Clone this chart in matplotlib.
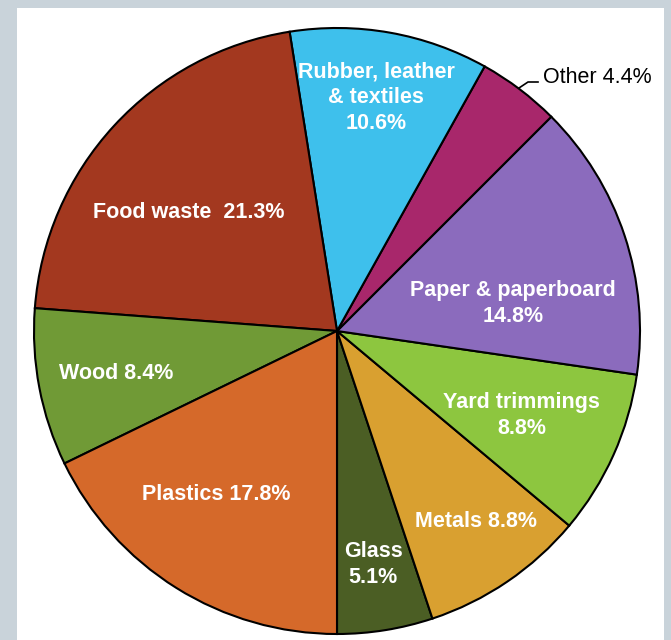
import matplotlib
matplotlib.use("Agg")
import matplotlib.pyplot as plt
from matplotlib.patches import Rectangle

# Share of municipal solid waste, going counterclockwise from the bottom
categories = ["Glass", "Metals", "Yard trimmings", "Paper & paperboard", "Other",
              "Rubber, leather & textiles", "Food waste", "Wood", "Plastics"]
shares = [5.1, 8.8, 8.8, 14.8, 4.4, 10.6, 21.3, 8.4, 17.8]
labels = ["Glass\n5.1%", "Metals 8.8%", "Yard trimmings\n8.8%", "Paper & paperboard\n14.8%",
          "Other 4.4%", "Rubber, leather\n& textiles\n10.6%", "Food waste  21.3%",
          "Wood 8.4%", "Plastics 17.8%"]
colors = ["#4b5e24", "#d9a030", "#8dc63f", "#8b6bbd", "#a8276b",
          "#3ec0ec", "#a3381f", "#709a36", "#d5692a"]

# label centres in pie units (radius = 1)
label_pos = [(0.12, -0.77), (0.46, -0.63), (0.61, -0.28), (0.58, 0.09), None,
             (0.13, 0.77), (-0.49, 0.39), (-0.73, -0.14), (-0.40, -0.54)]

W, H = 671, 640
cx, cy, R = 337, 331, 303

fig = plt.figure(figsize=(W / 100, H / 100), dpi=100)
fig.patch.set_facecolor("#c9d3da")
fig.patches.append(Rectangle((17 / W, 0), 647 / W, (H - 8) / H, transform=fig.transFigure,
                             facecolor="white", edgecolor="none", zorder=-1))

ax = fig.add_axes([0, 0, 1, 1])
ax.set_facecolor("none")
ax.pie(shares, colors=colors, startangle=-90, counterclock=True,
       wedgeprops=dict(edgecolor="black", linewidth=1.5))
ax.set_xlim(-cx / R, (W - cx) / R)
ax.set_ylim(-(H - cy) / R, cy / R)
ax.set_aspect("equal", adjustable="box")
ax.axis("off")

for lab, pos in zip(labels, label_pos):
    if pos is None:
        continue
    ax.text(pos[0], pos[1], lab, ha="center", va="center", color="white",
            fontsize=15.5, fontweight="bold", linespacing=1.3,
            family=["Liberation Sans", "DejaVu Sans"])

# leader line for the small "Other" slice
ax.plot([(519 - cx) / R, (528 - cx) / R, (538 - cx) / R],
        [(cy - 88) / R, (cy - 82) / R, (cy - 82) / R], color="black", linewidth=1.2)
ax.text((543 - cx) / R, (cy - 78) / R, labels[4], ha="left", va="center", color="black",
        fontsize=15.5, family=["Liberation Sans", "DejaVu Sans"])

fig.savefig("out.png", dpi=100, facecolor=fig.get_facecolor())
